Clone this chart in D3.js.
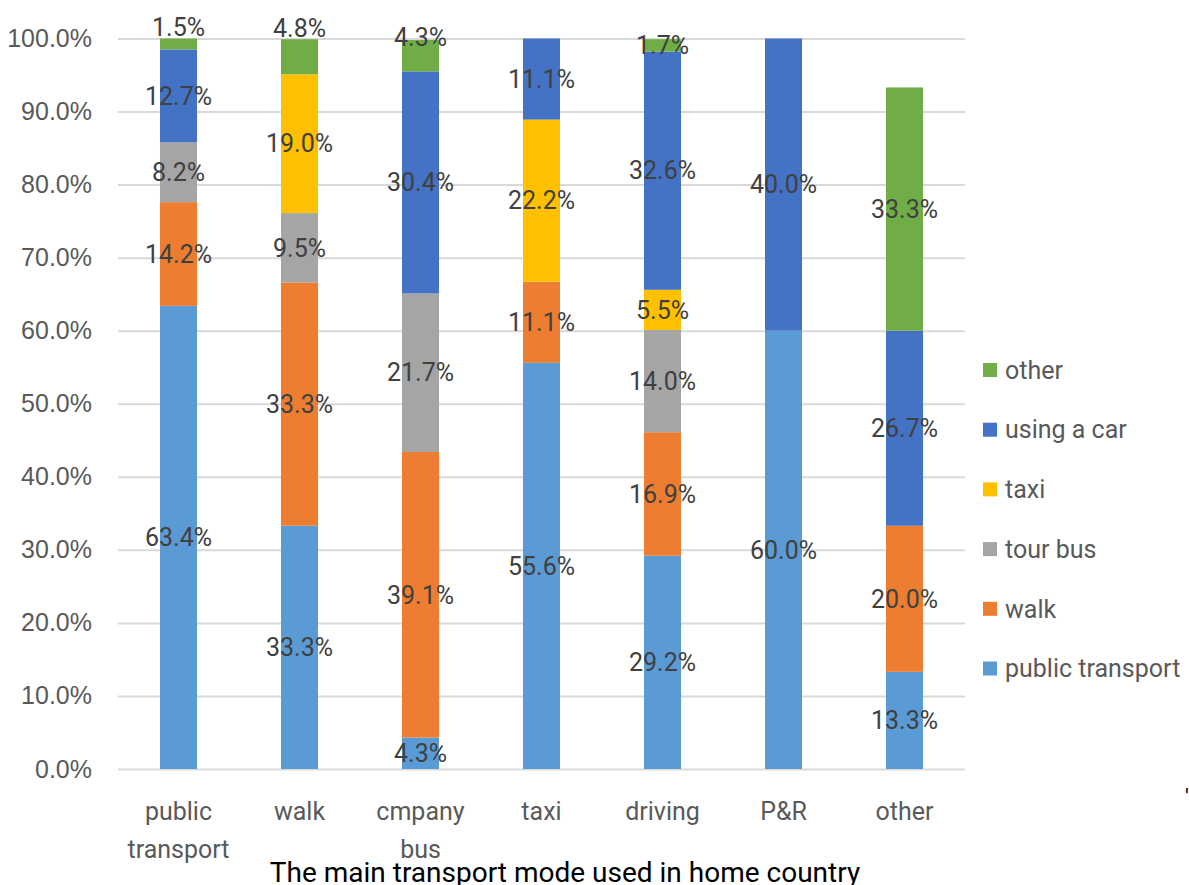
<html lang="en">
<head>
    <meta charset="UTF-8">
    <title>Main transport mode</title>
    <script src="https://d3js.org/d3.v7.min.js"></script>
    <style>
        body { margin: 0; background: #fff; }
        svg { font-family: Roboto, "Open Sans", sans-serif; }
    </style>
</head>
<body>
    <script>
        // data
        const categories = ["public transport", "walk", "cmpany bus", "taxi", "driving", "P&R", "other"];
        const seriesNames = ["public transport", "walk", "tour bus", "taxi", "using a car", "other"];
        const publicTransport = [63.4, 33.3, 4.3, 55.6, 29.2, 60.0, 13.3];
        const walk = [14.2, 33.3, 39.1, 11.1, 16.9, 0, 20.0];
        const tourBus = [8.2, 9.5, 21.7, 0, 14.0, 0, 0];
        const taxi = [0, 19.0, 0, 22.2, 5.5, 0, 0];
        const usingACar = [12.7, 0, 30.4, 11.1, 32.6, 40.0, 26.7];
        const other = [1.5, 4.8, 4.3, 0, 1.7, 0, 33.3];
        const colors = ["#5B9BD5", "#ED7D31", "#A5A5A5", "#FFC000", "#4472C4", "#70AD47"];

        const width = 1189, height = 885;
        const margin = { top: 38.5, right: 224, bottom: 116, left: 118 };

        const seriesValues = [publicTransport, walk, tourBus, taxi, usingACar, other];
        const table = categories.map((c, i) => {
            const row = { category: c };
            seriesNames.forEach((s, j) => row[s] = seriesValues[j][i]);
            return row;
        });

        const x = d3.scaleBand()
            .domain(categories)
            .range([margin.left, width - margin.right])
            .paddingInner(0.694)
            .paddingOuter(0.347);

        const y = d3.scaleLinear()
            .domain([0, 100])
            .range([height - margin.bottom, margin.top]);

        const color = d3.scaleOrdinal().domain(seriesNames).range(colors);

        const svg = d3.select("body").append("svg")
            .attr("width", width)
            .attr("height", height);

        // gridlines + y labels
        const yAxis = svg.append("g")
            .attr("transform", `translate(${margin.left},0)`)
            .call(d3.axisLeft(y).ticks(10).tickSize(-(width - margin.left - margin.right))
                .tickPadding(26).tickFormat(d => d.toFixed(1) + "%"));
        yAxis.select(".domain").remove();
        yAxis.selectAll(".tick line").attr("stroke", "#d9d9d9").attr("stroke-width", 2);
        yAxis.selectAll(".tick text")
            .attr("fill", "#595959")
            .style("font-size", "25px");

        // stacked bars
        const stacked = d3.stack().keys(seriesNames)(table);

        const layers = svg.append("g")
            .selectAll("g")
            .data(stacked)
            .join("g")
            .attr("fill", d => color(d.key));

        layers.selectAll("rect")
            .data(d => d.map(p => ({ key: d.key, p })))
            .join("rect")
            .attr("x", d => x(d.p.data.category))
            .attr("y", d => y(d.p[1]))
            .attr("width", x.bandwidth())
            .attr("height", d => y(d.p[0]) - y(d.p[1]));

        // a few labels were dragged up in the original
        const nudge = { "public transport|other": -17, "walk|other": -29, "cmpany bus|other": -18 };

        const labels = [];
        stacked.forEach(s => s.forEach(p => {
            const v = p[1] - p[0];
            if (v > 0) labels.push({ key: s.key, cat: p.data.category, v, mid: (p[0] + p[1]) / 2 });
        }));

        svg.append("g")
            .selectAll("text")
            .data(labels)
            .join("text")
            .attr("x", d => x(d.cat) + x.bandwidth() / 2)
            .attr("y", d => y(d.mid) + (nudge[d.cat + "|" + d.key] || 0))
            .attr("dy", "0.35em")
            .attr("text-anchor", "middle")
            .attr("fill", "#404040")
            .style("font-size", "25px")
            .text(d => d.v.toFixed(1) + "%");

        // category labels
        const xl = svg.append("g")
            .selectAll("text")
            .data(categories)
            .join("text")
            .attr("x", d => x(d) + x.bandwidth() / 2)
            .attr("y", height - margin.bottom + 51)
            .attr("text-anchor", "middle")
            .attr("fill", "#595959")
            .style("font-size", "25px");
        xl.each(function (d) {
            const words = d === "public transport" || d === "cmpany bus" ? d.split(" ") : [d];
            const t = d3.select(this);
            words.forEach((w, i) => t.append("tspan")
                .attr("x", x(d) + x.bandwidth() / 2)
                .attr("dy", i === 0 ? 0 : 38)
                .text(w));
        });

        // axis title (sits low, clipped like the original)
        svg.append("text")
            .attr("x", 565)
            .attr("y", 882)
            .attr("text-anchor", "middle")
            .attr("fill", "#000")
            .style("font-size", "28px")
            .text("The main transport mode used in home country");

        // legend, reversed
        const legend = svg.append("g")
            .attr("transform", "translate(983,370)")
            .selectAll("g")
            .data(seriesNames.slice().reverse())
            .join("g")
            .attr("transform", (d, i) => `translate(0,${i * 59.7})`);

        legend.append("rect")
            .attr("y", -7)
            .attr("width", 14)
            .attr("height", 14)
            .attr("fill", d => color(d));

        legend.append("text")
            .attr("x", 22)
            .attr("dy", "0.35em")
            .attr("fill", "#595959")
            .style("font-size", "25px")
            .text(d => d);

        // stray mark at the right edge
        svg.append("text")
            .attr("x", 1185)
            .attr("y", 804)
            .attr("fill", "#000")
            .style("font-size", "22px")
            .text("'");
    </script>
</body>
</html>
